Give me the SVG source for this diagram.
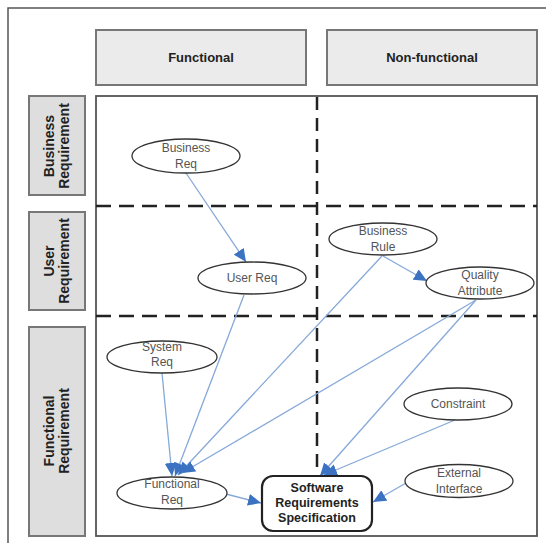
<svg xmlns="http://www.w3.org/2000/svg" width="546" height="543" viewBox="0 0 546 543">
<defs>
<style>
.hdr{fill:#ebebeb;stroke:#777;stroke-width:2}
.lbl{fill:#dedede;stroke:#777;stroke-width:2}
.ht{font-family:"Liberation Sans",Arial,sans-serif;font-size:13px;font-weight:bold;fill:#222;text-anchor:middle}
.lt{font-family:"Liberation Sans",Arial,sans-serif;font-size:14px;font-weight:bold;fill:#222;text-anchor:middle}
.ell{fill:#fff;stroke:#333;stroke-width:1.3}
.et{font-family:"Liberation Sans",Arial,sans-serif;font-size:12px;fill:#555;text-anchor:middle}
.st{font-family:"Liberation Sans",Arial,sans-serif;font-size:12.5px;font-weight:bold;fill:#222;text-anchor:middle}
.dh{stroke:#222;stroke-width:2.5;stroke-dasharray:15 8;fill:none}
.dv{stroke:#222;stroke-width:2.5;stroke-dasharray:13 8;fill:none}
.c{stroke:#86a9d9;stroke-width:1.3;fill:none;marker-end:url(#ah)}
</style>
<marker id="ah" viewBox="0 0 13 12" refX="13" refY="6" markerWidth="13" markerHeight="12" markerUnits="userSpaceOnUse" orient="auto">
<path d="M0,0 L13,6 L0,12 Z" fill="#3b72c2"/>
</marker>
</defs>
<rect width="546" height="543" fill="#fff"/>
<path d="M8,543 V8 H546" fill="none" stroke="#555" stroke-width="1.5"/>

<g id="header-functional"><rect class="hdr" x="96" y="30" width="210" height="55"/><text class="ht" x="201" y="62">Functional</text></g>
<g id="header-nonfunctional"><rect class="hdr" x="327" y="30" width="210" height="55"/><text class="ht" x="432" y="62">Non-functional</text></g>

<g id="row-business"><rect class="lbl" x="29" y="96" width="56" height="99"/><text class="lt" transform="translate(57,146) rotate(-90)"><tspan x="0" y="-3">Business</tspan><tspan x="0" y="12">Requirement</tspan></text></g>
<g id="row-user"><rect class="lbl" x="29" y="212" width="56" height="98"/><text class="lt" transform="translate(57,261) rotate(-90)"><tspan x="0" y="-3">User</tspan><tspan x="0" y="12">Requirement</tspan></text></g>
<g id="row-functional"><rect class="lbl" x="29" y="327" width="56" height="209"/><text class="lt" transform="translate(57,431) rotate(-90)"><tspan x="0" y="-3">Functional</tspan><tspan x="0" y="12">Requirement</tspan></text></g>

<g id="grid">
<rect x="96" y="96" width="441" height="440" fill="#fff" stroke="#555" stroke-width="1.8"/>
<line class="dh" x1="96" y1="206" x2="537" y2="206"/>
<line class="dh" x1="96" y1="316" x2="537" y2="316"/>
<line class="dv" x1="317" y1="97" x2="317" y2="476"/>
</g>

<g id="connectors">
<line class="c" x1="186" y1="173" x2="246" y2="262"/>
<line class="c" x1="383" y1="256" x2="427" y2="281"/>
<line class="c" x1="162" y1="373" x2="172" y2="476"/>
<line class="c" x1="244" y1="295" x2="175" y2="476"/>
<line class="c" x1="382" y1="256" x2="178" y2="475"/>
<line class="c" x1="476" y1="300" x2="182" y2="473"/>
<line class="c" x1="476" y1="300" x2="320" y2="476"/>
<line class="c" x1="455" y1="420" x2="324" y2="475"/>
<line class="c" x1="406" y1="483" x2="373" y2="502"/>
<line class="c" x1="226" y1="494" x2="261" y2="503"/>
</g>

<g id="business-req"><ellipse class="ell" cx="186" cy="156" rx="54" ry="17"/><text class="et" x="186" y="152">Business</text><text class="et" x="186" y="168">Req</text></g>
<g id="user-req"><ellipse class="ell" cx="252" cy="278" rx="54" ry="16"/><text class="et" x="252" y="282">User Req</text></g>
<g id="business-rule"><ellipse class="ell" cx="383" cy="239" rx="54" ry="16"/><text class="et" x="383" y="235">Business</text><text class="et" x="383" y="251">Rule</text></g>
<g id="quality-attribute"><ellipse class="ell" cx="480" cy="283" rx="54" ry="16"/><text class="et" x="480" y="279">Quality</text><text class="et" x="480" y="295">Attribute</text></g>
<g id="system-req"><ellipse class="ell" cx="162" cy="357" rx="55" ry="16"/><text class="et" x="162" y="351">System</text><text class="et" x="162" y="366">Req</text></g>
<g id="constraint"><ellipse class="ell" cx="458" cy="404" rx="54" ry="16"/><text class="et" x="458" y="408">Constraint</text></g>
<g id="external-interface"><ellipse class="ell" cx="459" cy="481" rx="54" ry="16.5"/><text class="et" x="459" y="477">External</text><text class="et" x="459" y="493">Interface</text></g>
<g id="functional-req"><ellipse class="ell" cx="172" cy="493" rx="55" ry="16"/><text class="et" x="172" y="488">Functional</text><text class="et" x="172" y="504">Req</text></g>
<g id="srs"><rect x="262" y="476" width="110" height="55" rx="11" fill="#fff" stroke="#222" stroke-width="2.2"/><text class="st" x="317" y="492">Software</text><text class="st" x="317" y="507">Requirements</text><text class="st" x="317" y="522">Specification</text></g>
</svg>
